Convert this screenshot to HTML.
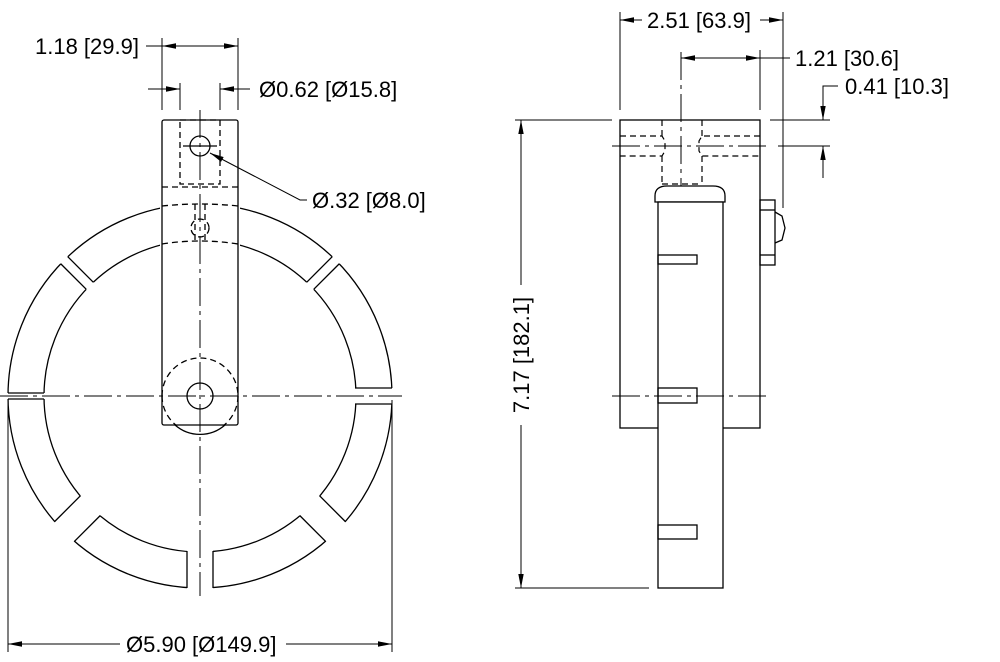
<!DOCTYPE html>
<html><head><style>
html,body{margin:0;padding:0;background:#fff}
svg{display:block}
text{font-family:"Liberation Sans",sans-serif;font-size:22px;fill:#000}
</style></head><body>
<svg width="1000" height="662" viewBox="0 0 1000 662" xmlns="http://www.w3.org/2000/svg">
<defs>
<marker id="a" viewBox="0 0 14 6" refX="14" refY="3" markerWidth="14" markerHeight="6" markerUnits="userSpaceOnUse" orient="auto-start-reverse"><path d="M0,0.3 L14,3 L0,5.7 z" fill="#000"/></marker>
</defs>
<g fill="none" stroke="#000" stroke-width="1.3">
<circle cx="200" cy="396" r="192"/>
<circle cx="200" cy="396" r="156"/>
<g fill="#fff" stroke="none">
<rect x="-3" y="-200" width="6" height="48" transform="translate(200,396) rotate(-90)"/>
<rect x="-8" y="-200" width="16" height="48" transform="translate(200,396) rotate(90)"/>
<rect x="-5" y="-200" width="10" height="48" transform="translate(200,396) rotate(-45)"/>
<rect x="-5" y="-200" width="10" height="48" transform="translate(200,396) rotate(45)"/>
<rect x="-14" y="-200" width="28" height="48" transform="translate(200,396) rotate(-135)"/>
<rect x="-14" y="-200" width="28" height="48" transform="translate(200,396) rotate(135)"/>
<rect x="-13" y="-200" width="26" height="48" transform="translate(200,396) rotate(180)"/>
<rect x="160" y="198" width="80" height="50"/>
</g>
<g transform="translate(200,396) rotate(-90)"><line x1="-3" y1="-192" x2="-3" y2="-156"/><line x1="3" y1="-192" x2="3" y2="-156"/></g>
<g transform="translate(200,396) rotate(90)"><line x1="-8" y1="-192" x2="-8" y2="-155"/><line x1="8" y1="-192" x2="8" y2="-155"/></g>
<g transform="translate(200,396) rotate(-45)"><line x1="-5" y1="-192" x2="-5" y2="-156"/><line x1="5" y1="-192" x2="5" y2="-156"/></g>
<g transform="translate(200,396) rotate(45)"><line x1="-5" y1="-192" x2="-5" y2="-156"/><line x1="5" y1="-192" x2="5" y2="-156"/></g>
<g transform="translate(200,396) rotate(-135)"><line x1="-14" y1="-192" x2="-14" y2="-155"/><line x1="14" y1="-192" x2="14" y2="-155"/></g>
<g transform="translate(200,396) rotate(135)"><line x1="-14" y1="-192" x2="-14" y2="-155"/><line x1="14" y1="-192" x2="14" y2="-155"/></g>
<g transform="translate(200,396) rotate(180)"><line x1="-13" y1="-192" x2="-13" y2="-155"/><line x1="13" y1="-192" x2="13" y2="-155"/></g>
<rect x="162" y="120" width="76" height="305" rx="2" fill="#fff"/>
<g stroke-dasharray="6,4">
<path d="M162,206 Q200,202 238,206"/>
<path d="M162,244 Q200,238 238,244"/>
<line x1="162" y1="187" x2="238" y2="187"/>
<rect x="180" y="120" width="40" height="64"/>
<circle cx="200" cy="228" r="9"/>
<line x1="195" y1="204" x2="195" y2="240"/><line x1="205" y1="204" x2="205" y2="240"/>
<path d="M162,396 A38,38 0 0 1 238,396" />
<path d="M162,396 A38,38 0 0 0 177,426"/><path d="M238,396 A38,38 0 0 1 223,426"/>
</g>
<path d="M175,425 A38,38 0 0 0 225,425"/>
<circle cx="200" cy="146" r="10"/>
<circle cx="200" cy="396" r="13"/>
<line x1="183" y1="146" x2="217" y2="146"/>
<line x1="0" y1="396" x2="402" y2="396" stroke-dasharray="28,5,4,5" stroke-width="1"/>
<line x1="200" y1="110" x2="200" y2="596" stroke-dasharray="28,5,4,5" stroke-width="1"/>
<line x1="162" y1="38" x2="162" y2="110" stroke-width="1"/>
<line x1="238" y1="38" x2="238" y2="110" stroke-width="1"/>
<line x1="146" y1="46" x2="162" y2="46" stroke-width="1"/>
<line x1="200" y1="46" x2="162" y2="46" stroke-width="1" marker-end="url(#a)"/>
<line x1="200" y1="46" x2="238" y2="46" stroke-width="1" marker-end="url(#a)"/>
<line x1="180" y1="83" x2="180" y2="110" stroke-width="1"/>
<line x1="220" y1="83" x2="220" y2="110" stroke-width="1"/>
<line x1="148" y1="89" x2="180" y2="89" stroke-width="1" marker-end="url(#a)"/>
<line x1="250" y1="89" x2="220" y2="89" stroke-width="1" marker-end="url(#a)"/>
<polyline points="307,200 300,200 210,153" stroke-width="1" marker-end="url(#a)"/>
<line x1="8" y1="400" x2="8" y2="652" stroke-width="1"/>
<line x1="392" y1="400" x2="392" y2="652" stroke-width="1"/>
<line x1="120" y1="644" x2="8" y2="644" stroke-width="1" marker-end="url(#a)"/>
<line x1="286" y1="644" x2="392" y2="644" stroke-width="1" marker-end="url(#a)"/>
<line x1="578" y1="120" x2="612" y2="120" stroke-width="1"/>
<rect x="620" y="120" width="140" height="308"/>
<g stroke-dasharray="6,4" stroke-width="1.2">
<path d="M620,136 H662 L665,141 L665,151 L662,156 H620"/>
<path d="M760,136 H702 L699,141 L699,151 L702,156 H760"/>
<line x1="662" y1="120" x2="662" y2="136"/><line x1="702" y1="120" x2="702" y2="136"/>
<line x1="662" y1="156" x2="662" y2="184"/><line x1="702" y1="156" x2="702" y2="184"/>
<line x1="662" y1="184" x2="702" y2="184"/>
</g>
<line x1="612" y1="146" x2="770" y2="146" stroke-dasharray="28,5,4,5" stroke-width="1"/>
<line x1="681" y1="52" x2="681" y2="190" stroke-dasharray="28,5,4,5" stroke-width="1"/>
<path d="M655,202 V196 Q655,186 667,186 H713 Q725,186 725,196 V202 Z" fill="#fff"/>
<rect x="658" y="202" width="65" height="386" fill="#fff"/>
<rect x="658" y="255" width="39" height="9"/>
<rect x="658" y="388" width="39" height="15"/>
<rect x="658" y="525" width="39" height="14"/>
<line x1="612" y1="396" x2="766" y2="396" stroke-dasharray="28,5,4,5" stroke-width="1"/>
<rect x="760" y="200" width="15" height="65"/>
<line x1="760" y1="210" x2="775" y2="210"/><line x1="760" y1="255" x2="775" y2="255"/>
<path d="M775,212 L782,216 L785,228 L782,240 L775,243"/>
<line x1="620" y1="12" x2="620" y2="110" stroke-width="1"/>
<line x1="783" y1="12" x2="783" y2="208" stroke-width="1"/>
<line x1="642" y1="20" x2="620" y2="20" stroke-width="1" marker-end="url(#a)"/>
<line x1="760" y1="20" x2="783" y2="20" stroke-width="1" marker-end="url(#a)"/>
<line x1="760" y1="50" x2="760" y2="110" stroke-width="1"/>
<line x1="720" y1="58" x2="681" y2="58" stroke-width="1" marker-end="url(#a)"/>
<line x1="720" y1="58" x2="760" y2="58" stroke-width="1" marker-end="url(#a)"/>
<line x1="760" y1="58" x2="790" y2="58" stroke-width="1"/>
<line x1="770" y1="120" x2="830" y2="120" stroke-width="1"/>
<line x1="778" y1="146" x2="830" y2="146" stroke-width="1"/>
<polyline points="838,86 823,86 823,120" stroke-width="1" marker-end="url(#a)"/>
<line x1="823" y1="178" x2="823" y2="146" stroke-width="1" marker-end="url(#a)"/>
<line x1="515" y1="120" x2="612" y2="120" stroke-width="1"/>
<line x1="515" y1="588" x2="649" y2="588" stroke-width="1"/>
<line x1="521" y1="285" x2="521" y2="120" stroke-width="1" marker-end="url(#a)"/>
<line x1="521" y1="425" x2="521" y2="588" stroke-width="1" marker-end="url(#a)"/>
</g>
<text x="35" y="54">1.18 [29.9]</text>
<text x="259" y="97">Ø0.62 [Ø15.8]</text>
<text x="312" y="208">Ø.32 [Ø8.0]</text>
<text x="126" y="652">Ø5.90 [Ø149.9]</text>
<text x="647" y="28">2.51 [63.9]</text>
<text x="795" y="66">1.21 [30.6]</text>
<text x="845" y="94">0.41 [10.3]</text>
<text transform="translate(529,355) rotate(-90)" text-anchor="middle">7.17 [182.1]</text>
</svg>
</body></html>
